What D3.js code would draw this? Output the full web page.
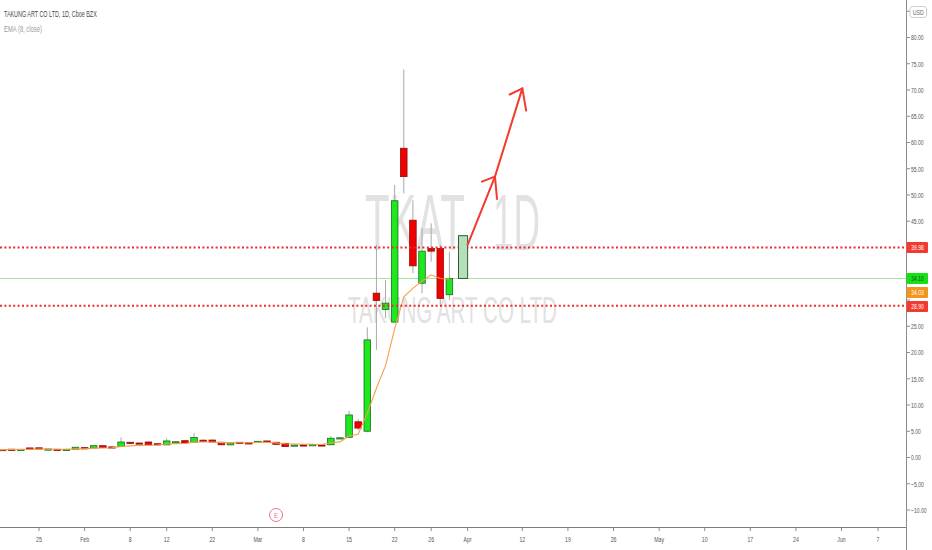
<!DOCTYPE html>
<html><head><meta charset="utf-8">
<script src="https://cdn.jsdelivr.net/npm/d3@7"></script>
<style>html,body{margin:0;padding:0;background:#fff;} svg{display:block;}</style>
</head><body>
<svg id="chart" width="932" height="550"></svg>
<script>
// ---------- DATA ----------
const dates = ["2021-01-15","2021-01-19","2021-01-20","2021-01-21","2021-01-22","2021-01-25","2021-01-26","2021-01-27","2021-01-28","2021-01-29",
 "2021-02-01","2021-02-02","2021-02-03","2021-02-04","2021-02-05","2021-02-08","2021-02-09","2021-02-10","2021-02-11","2021-02-12",
 "2021-02-16","2021-02-17","2021-02-18","2021-02-19","2021-02-22","2021-02-23","2021-02-24","2021-02-25","2021-02-26",
 "2021-03-01","2021-03-02","2021-03-03","2021-03-04","2021-03-05","2021-03-08","2021-03-09","2021-03-10","2021-03-11","2021-03-12",
 "2021-03-15","2021-03-16","2021-03-17","2021-03-18","2021-03-19","2021-03-22","2021-03-23","2021-03-24","2021-03-25","2021-03-26",
 "2021-03-29","2021-03-30"];
const opens  = [1.50,1.52,1.58,1.55,1.82,1.84,1.62,1.56,1.55,1.58, 1.88,1.80,2.25,2.02,2.10,2.90,2.76,2.95,2.62,2.40,
 2.90,3.20,2.90,3.30,3.32,2.90,2.40,2.90,2.80, 2.90,3.15,2.90,2.70,2.15,2.40,2.30,2.40,2.42,3.55,
 3.85,6.80,5.00,31.30,28.20,25.80,58.90,45.20,33.20,39.80, 39.80,31.00];
const highs  = [1.55,1.56,1.62,1.58,1.88,1.92,1.66,1.60,1.58,2.00, 1.98,2.30,2.30,2.08,3.85,2.95,2.82,3.00,2.66,3.65,
 3.05,3.25,4.70,3.40,3.40,2.95,2.85,2.95,2.85, 3.12,3.20,2.95,2.75,2.42,2.45,2.50,2.45,4.10,3.85,
 8.90,7.30,24.80,40.50,33.80,51.90,73.90,49.00,43.70,44.60, 40.50,39.20];
const lows   = [1.45,1.46,1.50,1.50,1.58,1.60,1.58,1.48,1.52,1.55, 1.62,1.78,1.85,1.86,2.05,2.60,2.60,2.38,2.55,2.38,
 2.85,2.70,2.85,3.05,2.90,2.40,2.35,2.72,2.75, 2.88,2.92,2.48,2.05,2.10,2.28,2.28,2.35,2.40,3.50,
 3.70,5.20,4.80,20.50,26.50,25.70,50.30,35.10,31.30,37.30, 28.70,30.00];
const closes = [1.50,1.50,1.53,1.56,1.60,1.62,1.62,1.50,1.55,1.95, 1.65,2.25,1.88,1.90,2.95,2.70,2.66,2.40,2.58,3.15,
 3.00,2.75,3.80,3.10,2.95,2.42,2.80,2.75,2.78, 3.08,2.95,2.50,2.07,2.38,2.32,2.45,2.38,3.66,3.75,
 8.10,5.60,22.40,29.90,29.40,48.90,53.50,36.50,39.30,39.30, 30.30,34.10];
const ema8   = [1.50,1.50,1.51,1.52,1.58,1.59,1.60,1.58,1.57,1.65, 1.65,1.79,1.81,1.83,2.08,2.22,2.31,2.33,2.39,2.56,
 2.65,2.67,2.92,2.96,2.96,2.84,2.83,2.81,2.80, 2.86,2.88,2.79,2.63,2.58,2.52,2.51,2.48,2.75,2.97,
 4.10,4.43,8.40,13.20,17.50,24.50,30.60,32.20,33.60,34.80, 34.10,34.03];

const xTickDates  = ["2021-01-25","2021-02-01","2021-02-08","2021-02-12","2021-02-22","2021-03-01","2021-03-08","2021-03-15","2021-03-22","2021-03-26",
 "2021-04-01","2021-04-12","2021-04-19","2021-04-26","2021-05-03","2021-05-10","2021-05-17","2021-05-24","2021-06-01","2021-06-07"];
const xTickLabels = ["25","Feb","8","12","22","Mar","8","15","22","26","Apr","12","19","26","May","10","17","24","Jun","7"];
const yTickValues = [85,80,75,70,65,60,55,50,45,40,35,30,25,20,15,10,5,0,-5,-10];

const levelPrices = [39.98, 28.90];
const lastPrice = 34.10;
const emaLast = 34.03;
const boxDates = ["2021-03-31","2021-04-01"];
const boxPrices = [42.25, 34.10];
const arrowDates = ["2021-04-01","2021-04-07","2021-04-12"];
const arrowPrices = [40.5, 53.5, 70.3];
const earningsDate = "2021-03-03";
const holidays = ["2021-01-18","2021-02-15","2021-04-02","2021-05-31"];

// ---------- SETUP ----------
const FONT = "'Liberation Sans', Arial, sans-serif";
const svg = d3.select("#chart");
const plotR = 906, plotB = 527;

const hol = new Set(holidays);
const calendar = [];
for (let t = Date.UTC(2021,0,4); t <= Date.UTC(2021,5,30); t += 86400000) {
  const d = new Date(t), wd = d.getUTCDay(), s = d.toISOString().slice(0,10);
  if (wd === 0 || wd === 6 || hol.has(s)) continue;
  calendar.push(s);
}
const idx = s => calendar.indexOf(s);
const x = d3.scaleLinear().domain([idx("2021-01-25"), idx("2021-06-07")]).range([39, 878]);
const xd = s => x(idx(s));
const y = d3.scaleLinear().domain([-13.24, 87.14]).range([plotB, 0]);

function sqText(parent, px, py, str, o) {
  const g = parent.append("g");
  const t = g.append("text").text(str)
    .attr("font-family", FONT).attr("font-size", o.size)
    .attr("fill", o.fill).attr("text-anchor", o.anchor || "start");
  let k = o.k || 1;
  if (o.width) k = o.width / t.node().getComputedTextLength();
  g.attr("transform", `translate(${px},${py}) scale(${k},1)`);
  return g;
}

svg.append("defs").append("clipPath").attr("id","clip")
  .append("rect").attr("x",0).attr("y",0).attr("width",plotR).attr("height",plotB);

// ---------- WATERMARK ----------
const wm = svg.append("g");
sqText(wm, 365, 250, "TKAT", {size:79, fill:"#e2e2e2", width:100});
sqText(wm, 493, 250, "1D", {size:79, fill:"#e2e2e2", width:47});
sqText(wm, 348, 323, "TAKUNG ART CO LTD", {size:37.5, fill:"#e2e2e2", width:209});

const plot = svg.append("g").attr("clip-path","url(#clip)");

// last price line
plot.append("line").attr("x1",0).attr("x2",plotR)
  .attr("y1",y(lastPrice)).attr("y2",y(lastPrice))
  .attr("stroke","#9fe39f").attr("stroke-width",1);

// ---------- CANDLES ----------
const candles = dates.map((d,i)=>({d, o:opens[i], h:highs[i], l:lows[i], c:closes[i]}));
const bw = (x(1)-x(0))*0.72;
plot.selectAll("line.wick").data(candles).join("line").attr("class","wick")
  .attr("x1",d=>xd(d.d)).attr("x2",d=>xd(d.d))
  .attr("y1",d=>y(d.h)).attr("y2",d=>y(d.l))
  .attr("stroke","#a9a9a9").attr("stroke-width",1);
plot.selectAll("rect.body").data(candles).join("rect").attr("class","body")
  .attr("x",d=>xd(d.d)-bw/2).attr("width",bw)
  .attr("y",d=>y(Math.max(d.o,d.c)))
  .attr("height",d=>Math.max(1.2, Math.abs(y(d.o)-y(d.c))))
  .attr("fill",d=>d.c>=d.o ? "#1ee81e" : "#f00000")
  .attr("stroke",d=>d.c>=d.o ? "#1d6b1d" : "#8c1010")
  .attr("stroke-width",0.8);

// EMA
plot.append("path").datum(dates.map((d,i)=>[d,ema8[i]]))
  .attr("d", d3.line().x(d=>xd(d[0])).y(d=>y(d[1])))
  .attr("fill","none").attr("stroke","#f5a04a").attr("stroke-width",1.1);

// levels
plot.selectAll("line.level").data(levelPrices).join("line").attr("class","level")
  .attr("x1",0).attr("x2",plotR).attr("y1",d=>y(d)).attr("y2",d=>y(d))
  .attr("stroke","#ee2b2b").attr("stroke-width",2).attr("stroke-dasharray","2,2.4");

// drawn box
plot.append("rect")
  .attr("x", xd(boxDates[0])).attr("width", xd(boxDates[1]) - xd(boxDates[0]))
  .attr("y", y(boxPrices[0])).attr("height", y(boxPrices[1]) - y(boxPrices[0]))
  .attr("fill","#b5dfb9").attr("stroke","#2f5e35").attr("stroke-width",1);

// arrow
const pts = arrowDates.map((d,i)=>[xd(d), y(arrowPrices[i])]);
const arrowG = plot.append("g").attr("stroke","#f4392d").attr("stroke-width",2)
  .attr("fill","none").attr("stroke-linecap","round");
arrowG.append("path").attr("d", d3.line()(pts));
for (let i = 1; i < pts.length; i++) {
  const [x0,y0] = pts[i-1], [x1,y1] = pts[i];
  const back = Math.atan2(y0-y1, x0-x1);
  const a1 = back + 47*Math.PI/180, a2 = back - 27*Math.PI/180;
  arrowG.append("path").attr("d",
    `M${x1+14*Math.cos(a1)},${y1+14*Math.sin(a1)}L${x1},${y1}L${x1+22.5*Math.cos(a2)},${y1+22.5*Math.sin(a2)}`);
}

// ---------- LEGEND ----------
sqText(svg, 4, 17, "TAKUNG ART CO LTD, 1D, Cboe BZX", {size:8.5, fill:"#4a4a4a", width:93});
sqText(svg, 4, 32, "EMA (8, close)", {size:8.5, fill:"#9a9a9a", width:38});

// ---------- AXES ----------
svg.append("line").attr("x1",plotR+0.5).attr("x2",plotR+0.5).attr("y1",0).attr("y2",550)
  .attr("stroke","#8c8c8c").attr("stroke-width",1);
svg.append("line").attr("x1",0).attr("x2",plotR).attr("y1",plotB+0.5).attr("y2",plotB+0.5)
  .attr("stroke","#7c7c7c").attr("stroke-width",1);

// price labels on axis (positions)
const plabels = [
  {v:levelPrices[0], bg:"#f23b30", fg:"#fff"},
  {v:lastPrice, bg:"#16e016", fg:"#1a4d1a"},
  {v:emaLast, bg:"#f5941f", fg:"#fff"},
  {v:levelPrices[1], bg:"#f23b30", fg:"#fff"}
].map(d => ({...d, py: y(d.v)}));
plabels.sort((a,b)=>a.py-b.py);
for (let i = 1; i < plabels.length; i++) {
  if (plabels[i].py - plabels[i-1].py < 14) plabels[i].py = plabels[i-1].py + 14;
}

const yAx = svg.append("g");
yTickValues.forEach(v => {
  yAx.append("line").attr("x1",plotR+1).attr("x2",plotR+4).attr("y1",y(v)).attr("y2",y(v))
    .attr("stroke","#8c8c8c");
  const hidden = v === 85 || plabels.some(p => Math.abs(p.py - y(v)) < 11);
  if (!hidden) sqText(yAx, 911, y(v)+2.9, d3.format(".2f")(v), {size:8, fill:"#555", k:0.63});
});
// USD box
svg.append("rect").attr("x",910).attr("y",6.5).attr("width",16.5).attr("height",11).attr("rx",2.5)
  .attr("fill","#fff").attr("stroke","#cfcfcf");
sqText(svg, 918.2, 14.8, "USD", {size:7.5, fill:"#666", k:0.7, anchor:"middle"});

const xAx = svg.append("g");
xTickDates.forEach((d,i) => {
  const px = xd(d);
  xAx.append("line").attr("x1",px).attr("x2",px).attr("y1",plotB+1).attr("y2",plotB+4)
    .attr("stroke","#8c8c8c");
  sqText(xAx, px, 541.5, xTickLabels[i], {size:8, fill:"#555", k:0.65, anchor:"middle"});
});

plabels.forEach(d => {
  svg.append("rect").attr("x",906.5).attr("y",d.py-5.5).attr("width",21.5).attr("height",11).attr("rx",1)
    .attr("fill",d.bg);
  sqText(svg, 917.5, d.py+2.9, d3.format(".2f")(d.v), {size:8, fill:d.fg, k:0.63, anchor:"middle"});
});

// earnings marker
const eg = svg.append("g").attr("transform",`translate(${xd(earningsDate)},515)`);
eg.append("circle").attr("r",6.5).attr("fill","#fff").attr("stroke","#e8728a").attr("stroke-width",1);
sqText(eg, 0, 2.8, "E", {size:8, fill:"#e8728a", k:0.75, anchor:"middle"});
</script>
</body></html>
